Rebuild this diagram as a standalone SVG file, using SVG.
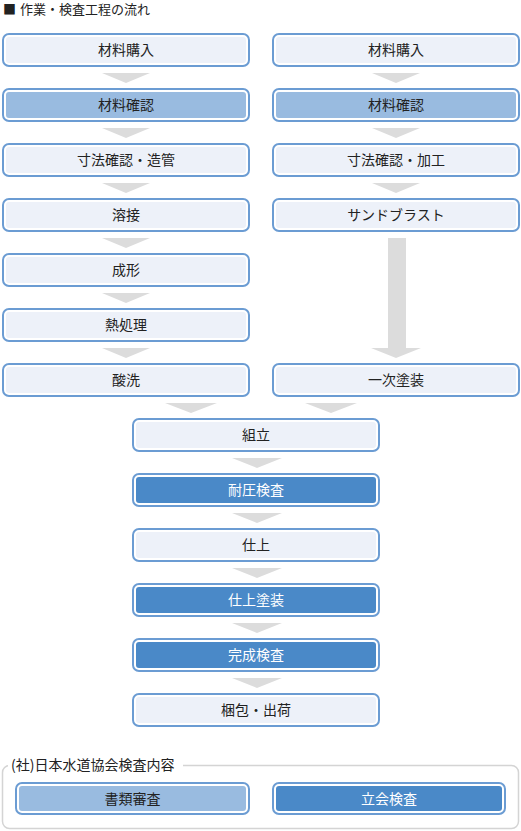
<svg xmlns="http://www.w3.org/2000/svg" width="521" height="831" viewBox="0 0 521 831">
<style>
text{font-family:"Noto Sans CJK JP","Noto Sans",sans-serif;font-size:14px;fill:#222;text-anchor:middle}
.o{fill:#fff;stroke:#6b9cd3;stroke-width:2}
.l{fill:#edf1f9}
.m{fill:#99bbe0}
.d{fill:#4a89c8}
.w{fill:#fff}
.a{fill:#dcdcdc}
.t{text-anchor:start;font-size:13px}
</style>
<rect width="521" height="831" fill="#fff"/>
<text class="t" x="3" y="14"><tspan style="font-size:13px">■</tspan><tspan x="20">作業・検査工程の流れ</tspan></text>
<g id="connectors">
<polygon class="a" points="102,73 150,73 126,83"/>
<polygon class="a" points="102,128 150,128 126,138"/>
<polygon class="a" points="102,183 150,183 126,193"/>
<polygon class="a" points="102,238 150,238 126,248"/>
<polygon class="a" points="102,293 150,293 126,303"/>
<polygon class="a" points="102,348 150,348 126,358"/>
<polygon class="a" points="372,73 420,73 396,83"/>
<polygon class="a" points="372,128 420,128 396,138"/>
<polygon class="a" points="372,183 420,183 396,193"/>
<polygon class="a" points="388,238 406,238 406,348 421,348 396,358 371,348 388,348"/>
<polygon class="a" points="165,403 217,403 191,413"/>
<polygon class="a" points="305,403 357,403 331,413"/>
<polygon class="a" points="232,458 282,458 257,468"/>
<polygon class="a" points="232,513 282,513 257,523"/>
<polygon class="a" points="232,568 282,568 257,578"/>
<polygon class="a" points="232,623 282,623 257,633"/>
<polygon class="a" points="232,678 282,678 257,688"/>
</g>
<g id="n1"><rect class="o" x="3" y="34" width="246" height="32" rx="6"/><rect class="l" x="6" y="37" width="240" height="26" rx="3"/><text x="126" y="55">材料購入</text></g>
<g id="n2"><rect class="o" x="3" y="89" width="246" height="32" rx="6"/><rect class="m" x="6" y="92" width="240" height="26" rx="3"/><text x="126" y="110">材料確認</text></g>
<g id="n3"><rect class="o" x="3" y="144" width="246" height="32" rx="6"/><rect class="l" x="6" y="147" width="240" height="26" rx="3"/><text x="126" y="165">寸法確認・造管</text></g>
<g id="n4"><rect class="o" x="3" y="199" width="246" height="32" rx="6"/><rect class="l" x="6" y="202" width="240" height="26" rx="3"/><text x="126" y="220">溶接</text></g>
<g id="n5"><rect class="o" x="3" y="254" width="246" height="32" rx="6"/><rect class="l" x="6" y="257" width="240" height="26" rx="3"/><text x="126" y="275">成形</text></g>
<g id="n6"><rect class="o" x="3" y="309" width="246" height="32" rx="6"/><rect class="l" x="6" y="312" width="240" height="26" rx="3"/><text x="126" y="330">熱処理</text></g>
<g id="n7"><rect class="o" x="3" y="364" width="246" height="32" rx="6"/><rect class="l" x="6" y="367" width="240" height="26" rx="3"/><text x="126" y="385">酸洗</text></g>
<g id="r1"><rect class="o" x="273" y="34" width="246" height="32" rx="6"/><rect class="l" x="276" y="37" width="240" height="26" rx="3"/><text x="396" y="55">材料購入</text></g>
<g id="r2"><rect class="o" x="273" y="89" width="246" height="32" rx="6"/><rect class="m" x="276" y="92" width="240" height="26" rx="3"/><text x="396" y="110">材料確認</text></g>
<g id="r3"><rect class="o" x="273" y="144" width="246" height="32" rx="6"/><rect class="l" x="276" y="147" width="240" height="26" rx="3"/><text x="396" y="165">寸法確認・加工</text></g>
<g id="r4"><rect class="o" x="273" y="199" width="246" height="32" rx="6"/><rect class="l" x="276" y="202" width="240" height="26" rx="3"/><text x="396" y="220">サンドブラスト</text></g>
<g id="r5"><rect class="o" x="273" y="364" width="246" height="32" rx="6"/><rect class="l" x="276" y="367" width="240" height="26" rx="3"/><text x="396" y="385">一次塗装</text></g>
<g id="c1"><rect class="o" x="133" y="419" width="246" height="32" rx="6"/><rect class="l" x="136" y="422" width="240" height="26" rx="3"/><text x="256" y="440">組立</text></g>
<g id="c2"><rect class="o" x="133" y="474" width="246" height="32" rx="6"/><rect class="d" x="136" y="477" width="240" height="26" rx="3"/><text class="w" x="256" y="495">耐圧検査</text></g>
<g id="c3"><rect class="o" x="133" y="529" width="246" height="32" rx="6"/><rect class="l" x="136" y="532" width="240" height="26" rx="3"/><text x="256" y="550">仕上</text></g>
<g id="c4"><rect class="o" x="133" y="584" width="246" height="32" rx="6"/><rect class="d" x="136" y="587" width="240" height="26" rx="3"/><text class="w" x="256" y="605">仕上塗装</text></g>
<g id="c5"><rect class="o" x="133" y="639" width="246" height="32" rx="6"/><rect class="d" x="136" y="642" width="240" height="26" rx="3"/><text class="w" x="256" y="660">完成検査</text></g>
<g id="c6"><rect class="o" x="133" y="694" width="246" height="32" rx="6"/><rect class="l" x="136" y="697" width="240" height="26" rx="3"/><text x="256" y="715">梱包・出荷</text></g>
<g id="legend">
<rect x="2.5" y="765.5" width="516" height="63" rx="7" fill="#fff" stroke="#d4d4d4" stroke-width="1.5"/>
<rect x="8" y="756" width="175" height="18" fill="#fff"/>
<text class="t" style="font-size:14px" x="11" y="770">(社)日本水道協会検査内容</text>
<g id="l1"><rect class="o" x="16" y="783" width="233" height="31" rx="6"/><rect class="m" x="19" y="786" width="227" height="25" rx="3"/><text x="132.5" y="804">書類審査</text></g>
<g id="l2"><rect class="o" x="273" y="783" width="232" height="31" rx="6"/><rect class="d" x="276" y="786" width="226" height="25" rx="3"/><text class="w" x="389" y="804">立会検査</text></g>
</g>
</svg>
